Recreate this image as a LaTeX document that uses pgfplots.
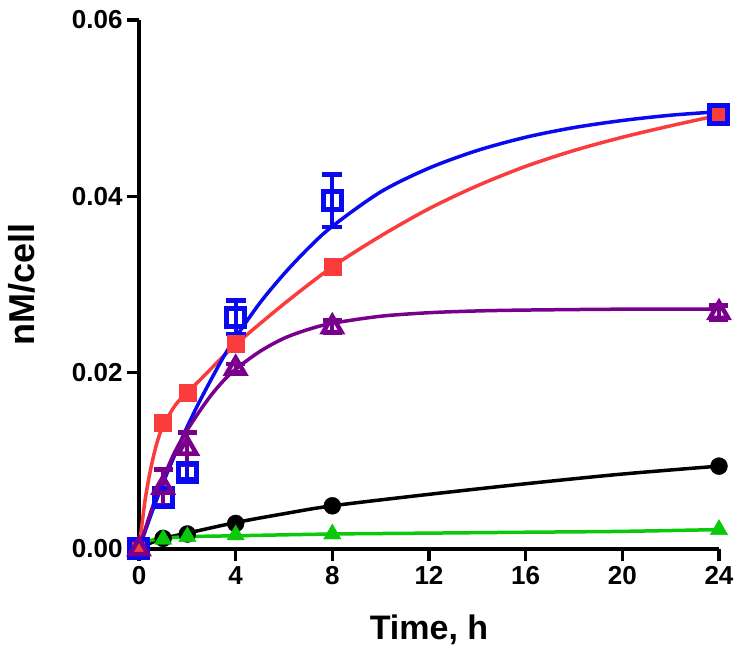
\documentclass[border=0pt]{standalone}
\usepackage{fontspec}
\setmainfont{Liberation Sans}
\usepackage{pgfplots}
\pgfplotsset{compat=1.18}
\definecolor{cred}{RGB}{250,60,60}
\definecolor{cblue}{RGB}{10,10,240}
\definecolor{cpurple}{RGB}{120,0,140}
\definecolor{cgreen}{RGB}{10,200,10}
\begin{document}
\begin{tikzpicture}
\path[use as bounding box] (-139pt,-111pt) rectangle (609pt,549pt);
\begin{axis}[
  scale only axis, width=580pt, height=529pt,
  xmin=0, xmax=24, ymin=0, ymax=0.06,
  axis lines=left, axis line style={line width=4pt,-},
  clip=false,
  xtick={0,4,8,12,16,20,24}, ytick={0,0.02,0.04,0.06},
  scaled y ticks=false,
  yticklabel style={/pgf/number format/fixed,/pgf/number format/fixed zerofill,/pgf/number format/precision=2, xshift=-1pt},
  xticklabel style={yshift=-2pt},
  /pgf/number format/assume math mode=true,
  tick style={line width=3.5pt,black}, tick align=outside, major tick length=12pt,
  ticklabel style={font=\fontsize{26}{26}\selectfont\bfseries},
  xlabel={Time, h}, ylabel={nM/cell},
  every axis x label/.style={at={(axis description cs:0.5,-0.172)}, anchor=base, font=\fontsize{34}{34}\selectfont\bfseries},
  every axis y label/.style={at={(axis description cs:-0.1793,0.5)}, rotate=90, anchor=base, font=\fontsize{36}{36}\selectfont\bfseries},
]
% ---- fitted curves
\addplot[black, line width=3.5pt, smooth] coordinates {(0,0)(0.5,0.0007)(1,0.0012)(2,0.0018)(4,0.0030)(6,0.0040)(8,0.0049)(12,0.0062)(16,0.0074)(20,0.0085)(24,0.0094)};
\addplot[cgreen, line width=3.5pt, smooth] coordinates {(0,0)(0.3,0.0008)(0.7,0.0011)(1,0.0012)(2,0.0014)(4,0.0015)(8,0.0017)(12,0.0018)(16,0.0019)(20,0.0020)(24,0.0022)};
\addplot[cred, line width=3.5pt, smooth] coordinates {(0,0)(0.25,0.0055)(0.5,0.0093)(0.75,0.0121)(1,0.0140)(1.5,0.0163)(2,0.0178)(2.5,0.0191)(3,0.0205)(4,0.0232)(6,0.0278)(8,0.0320)(10,0.0355)(12,0.0386)(14,0.0412)(16,0.0434)(18,0.0452)(20,0.0467)(22,0.0480)(24,0.0492)};
\addplot[cblue, line width=3.5pt, smooth] coordinates {(0,0)(0.5,0.0039)(1,0.0075)(1.5,0.0108)(2,0.0139)(2.5,0.0167)(3,0.0193)(3.5,0.0218)(4,0.0240)(5,0.0279)(6,0.0312)(7,0.0341)(8,0.0366)(10,0.0405)(12,0.0432)(14,0.0452)(16,0.0467)(18,0.0478)(20,0.0486)(22,0.0492)(24,0.0496)};
\addplot[cpurple, line width=3.5pt, smooth] coordinates {(0,0)(0.5,0.0043)(1,0.0080)(1.5,0.0111)(2,0.0135)(2.5,0.0156)(3,0.0175)(3.5,0.0191)(4,0.0204)(5,0.0224)(6,0.0239)(7,0.0249)(8,0.0256)(10,0.0264)(12,0.0268)(14,0.0270)(16,0.0271)(20,0.0272)(24,0.0272)};
% ---- data points
\addplot[only marks, mark=*, mark size=8.5pt, black] coordinates {(0,0)(1,0.0012)(2,0.0017)(4,0.0029)(8,0.0049)(24,0.0094)};
\addplot[only marks, mark=triangle*, mark size=10pt, cgreen] coordinates {(0,0)(1,0.0011)(2,0.0014)(4,0.0016)(8,0.0017)(24,0.0022)};
\addplot[only marks, mark=square*, mark size=8.5pt, cred,
  error bars/.cd, y dir=both, y explicit,
  error bar style={line width=3.5pt, cred},
  error mark options={rotate=90, mark size=8.5pt, line width=3.5pt, cred}]
  table[x=x, y=y, y error=e] {
x y e
0 0 0
1 0.0143 0.0008
2 0.0177 0.0004
4 0.0233 0.0004
8 0.0320 0.0004
24 0.0492 0.0004
};
\addplot[only marks, mark=square, mark size=9pt, cblue, mark options={line width=5pt},
  error bars/.cd, y dir=both, y explicit,
  error bar style={line width=4pt, cblue},
  error mark options={rotate=90, mark size=10pt, line width=4.5pt, cblue}]
  table[x=x, y=y, y error=e] {
x y e
0 0 0
1 0.0058 0.0010
2 0.0087 0.0008
4 0.0263 0.0019
8 0.0395 0.0030
24 0.0493 0.0008
};
\addplot[only marks, mark=triangle, mark size=10.5pt, cpurple, mark options={line width=4.5pt},
  error bars/.cd, y dir=both, y explicit,
  error bar style={line width=4pt, cpurple},
  error mark options={rotate=90, mark size=9.5pt, line width=4.5pt, cpurple}]
  table[x=x, y=y, y error=e] {
x y e
0 0 0
1 0.0070 0.0020
2 0.0114 0.0018
4 0.0205 0.0005
8 0.0252 0.0007
24 0.0268 0.0008
};
\end{axis}
\end{tikzpicture}
\end{document}
